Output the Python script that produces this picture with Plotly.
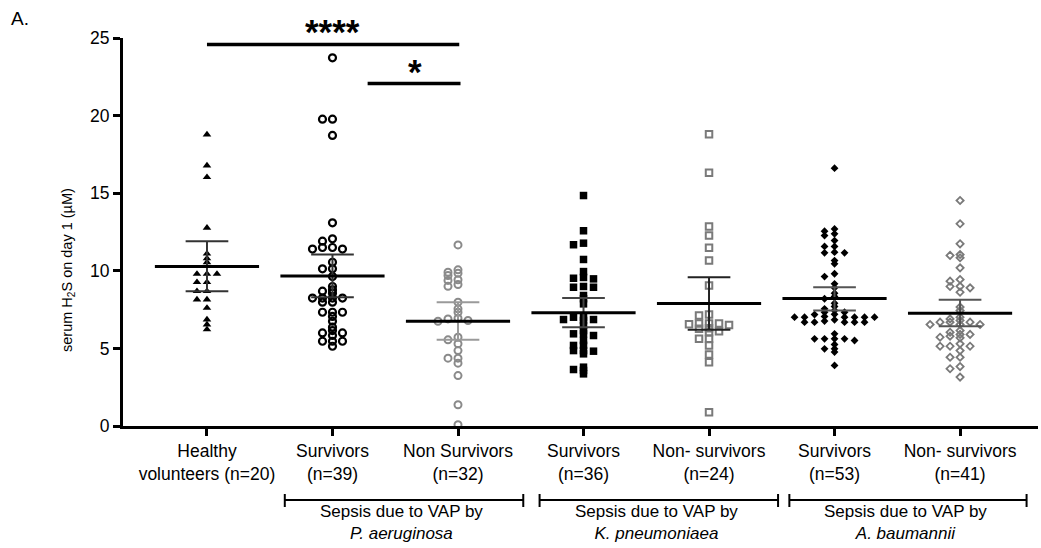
import numpy as np
import plotly.graph_objects as go

# ---------------- data ----------------
categories = [
    "Healthy<br>volunteers (n=20)",
    "Survivors<br>(n=39)",
    "Non Survivors<br>(n=32)",
    "Survivors<br>(n=36)",
    "Non- survivors<br>(n=24)",
    "Survivors<br>(n=53)",
    "Non- survivors<br>(n=41)",
]

healthy = [18.78, 16.78, 16.03, 12.77, 11.1, 10.8, 10.55, 9.8, 9.8, 9.8, 9.27, 9.27,
           8.69, 8.69, 8.15, 8.15, 7.61, 6.86, 6.54, 6.22]

pa_surv = [23.72, 19.77, 19.77, 18.72, 13.09, 12.06, 11.91, 11.5, 11.4, 11.5, 11.4,
           10.55, 10.13, 10.13, 9.63, 8.99, 8.77, 8.69, 8.56, 8.24, 8.24, 8.24, 8.24,
           7.98, 7.98, 7.33, 7.33, 7.33, 7.06, 6.75, 6.37, 6.15, 6.0, 6.0, 5.83,
           5.46, 5.46, 5.46, 5.14]

pa_nonsurv = [11.67, 10.06, 9.91, 9.85, 9.7, 9.42, 9.38, 9.12, 9.0, 7.98, 7.55, 7.33,
              6.95, 6.9, 6.8, 6.75, 5.72, 5.55, 5.3, 4.86, 4.37, 4.37, 4.05, 3.25,
              1.37, 0.08]

kp_surv = [14.85, 12.58, 11.78, 11.68, 10.73, 9.95, 9.57, 9.52, 9.48, 8.99, 8.94,
           8.94, 8.41, 8.2, 7.87, 7.01, 7.01, 6.86, 6.86, 6.8, 6.48, 6.15, 5.94,
           5.94, 5.83, 5.51, 5.2, 5.19, 4.86, 4.86, 4.82, 4.65, 3.79, 3.64, 3.58,
           3.36]

kp_nonsurv = [18.8, 16.31, 12.85, 12.27, 11.48, 10.66, 9.05, 7.18, 7.12, 6.6, 6.6,
              6.6, 6.56, 6.5, 6.3, 6.26, 6.11, 6.04, 5.62, 5.62, 5.19, 4.61, 4.11,
              0.89]

ab_surv = [16.61, 12.7, 12.55, 12.38, 12.27, 11.95, 11.57, 11.57, 11.2, 11.16, 11.16,
           10.66, 10.45, 9.81, 9.63, 9.16, 8.9, 8.56, 8.34, 8.2, 7.91, 7.7, 7.55,
           7.45, 7.33, 7.33, 7.2, 7.18, 7.06, 7.01, 7.01, 7.01, 7.01, 7.01, 7.01,
           6.84, 6.76, 6.69, 6.69, 6.69, 6.69, 6.69, 5.94, 5.62, 5.62, 5.62, 5.62,
           5.51, 5.25, 4.97, 4.97, 4.76, 3.9]

ab_nonsurv = [14.53, 13.03, 11.74, 11.05, 10.99, 10.84, 10.19, 9.44, 9.33, 9.0, 8.99,
              8.9, 8.62, 7.66, 7.44, 7.01, 6.9, 6.8, 6.69, 6.69, 6.69, 6.54, 6.54,
              6.54, 6.15, 6.04, 5.9, 5.9, 5.79, 5.72, 5.68, 5.3, 5.14, 5.14, 5.14,
              4.86, 4.43, 4.43, 3.83, 3.69, 3.15]

groups = [healthy, pa_surv, pa_nonsurv, kp_surv, kp_nonsurv, ab_surv, ab_nonsurv]

means = [10.28, 9.67, 6.75, 7.29, 7.89, 8.21, 7.27]
ci_low = [8.69, 8.30, 5.55, 6.37, 6.20, 7.44, 6.43]
ci_high = [11.90, 11.05, 7.98, 8.24, 9.59, 8.94, 8.13]

y_ticks = [0, 5, 10, 15, 20, 25]

# ---------------- styling ----------------
FONT = "Liberation Sans, Arial, sans-serif"
W, H = 1041, 548
M_L, M_R, M_T, M_B = 123, 3, 38, 122
X_RANGE = [-0.669, 6.621]
Y_RANGE = [0, 25]
PX_X = (W - M_L - M_R) / (X_RANGE[1] - X_RANGE[0])
PX_Y = (H - M_T - M_B) / (Y_RANGE[1] - Y_RANGE[0])

BLACK = "#000000"
GRAY = "#8a8a8a"
GRAY2 = "#7a7a7a"

styles = [
    dict(symbol="triangle-up", size=7.5, color=BLACK, line=dict(width=0)),
    dict(symbol="circle-open", size=7, color=BLACK, line=dict(width=2.2, color=BLACK)),
    dict(symbol="circle-open", size=7, color=GRAY, line=dict(width=2.0, color=GRAY)),
    dict(symbol="square", size=7.5, color=BLACK, line=dict(width=0)),
    dict(symbol="square-open", size=6.5, color=GRAY2, line=dict(width=2.0, color=GRAY2)),
    dict(symbol="diamond", size=6, color=BLACK, line=dict(width=0)),
    dict(symbol="diamond-open", size=5.5, color=GRAY2, line=dict(width=1.8, color=GRAY2)),
]
err_colors = ["#333333", "#333333", "#9a9a9a", "#444444", "#222222", "#555555", "#555555"]


def swarm(vals, center, w=10.0, dx_thr=9.0, dy_thr=3.2):
    """Simple column-scatter layout: offsets in pixel units, converted to axis units."""
    v = np.asarray(vals, dtype=float)
    order = np.argsort(-v, kind="stable")
    cands = [0.0]
    for k in range(1, 30):
        cands += [-k * w, k * w]
    placed = []
    xs = np.zeros(len(v))
    for i in order:
        y = v[i] * PX_Y
        for c in cands:
            if all(not (abs(c - px) < dx_thr and abs(y - py) < dy_thr) for px, py in placed):
                break
        placed.append((c, y))
        xs[i] = center + c / PX_X
    return xs


fig = go.Figure()

for gi, vals in enumerate(groups):
    xs = swarm(vals, gi)
    fig.add_trace(go.Scatter(
        x=xs, y=vals, mode="markers", marker=styles[gi],
        cliponaxis=False, showlegend=False, hoverinfo="y"))

# mean lines and 95% CI bars
MEAN_HW = 0.415
WHISK_HW = 0.17
for gi in range(len(groups)):
    m, lo, hi = means[gi], ci_low[gi], ci_high[gi]
    ec = err_colors[gi]
    fig.add_trace(go.Scatter(
        x=[gi, gi, None, gi - WHISK_HW, gi + WHISK_HW, None, gi - WHISK_HW, gi + WHISK_HW],
        y=[lo, hi, None, hi, hi, None, lo, lo],
        mode="lines", line=dict(color=ec, width=2), showlegend=False, hoverinfo="skip"))
    fig.add_trace(go.Scatter(
        x=[gi - MEAN_HW, gi + MEAN_HW], y=[m, m],
        mode="lines", line=dict(color=BLACK, width=3), showlegend=False, hoverinfo="skip"))


def ppy(pix):
    return (H - M_B - pix) / (H - M_T - M_B)


shapes = []
# significance bars
shapes.append(dict(type="line", xref="x", yref="y", x0=0, x1=2.01, y0=24.58, y1=24.58,
                   line=dict(color=BLACK, width=3.5)))
shapes.append(dict(type="line", xref="x", yref="y", x0=1.28, x1=2.02, y0=22.07, y1=22.07,
                   line=dict(color=BLACK, width=3.5)))

# group brackets below the axis
brackets = [(0.62, 2.52), (2.65, 4.55), (4.64, 6.53)]
bracket_labels = [
    "Sepsis due to VAP by<br><i>P. aeruginosa</i>",
    "Sepsis due to VAP by<br><i>K. pneumoniaea</i>",
    "Sepsis due to VAP by<br><i>A. baumannii</i>",
]
yb = ppy(500)
for (a, b) in brackets:
    shapes.append(dict(type="line", xref="x", yref="paper", x0=a, x1=b, y0=yb, y1=yb,
                       line=dict(color=BLACK, width=2)))
    for xx in (a, b):
        shapes.append(dict(type="line", xref="x", yref="paper", x0=xx, x1=xx,
                           y0=ppy(494), y1=ppy(507), line=dict(color=BLACK, width=2)))

annotations = []
for (a, b), txt in zip(brackets, bracket_labels):
    annotations.append(dict(x=(a + b) / 2 - 0.02, y=ppy(522), xref="x", yref="paper", text=txt,
                            showarrow=False, font=dict(family=FONT, size=17, color=BLACK),
                            xanchor="center", yanchor="middle"))

annotations.append(dict(x=1.0, y=ppy(31.5), xref="x", yref="paper", text="<b>****</b>",
                        showarrow=False, font=dict(family=FONT, size=35, color=BLACK),
                        xanchor="center", yanchor="middle"))
annotations.append(dict(x=1.657, y=ppy(71.5), xref="x", yref="paper", text="<b>*</b>",
                        showarrow=False, font=dict(family=FONT, size=35, color=BLACK),
                        xanchor="center", yanchor="middle"))

annotations.append(dict(x=(68 - M_L) / (W - M_L - M_R), y=ppy(270), xref="paper", yref="paper",
                        text="serum H<sub>2</sub>S on day 1 (µM)", textangle=-90, showarrow=False,
                        font=dict(family=FONT, size=14.5, color=BLACK),
                        xanchor="center", yanchor="middle"))
annotations.append(dict(x=(9 - M_L) / (W - M_L - M_R), y=ppy(19), xref="paper", yref="paper",
                        text="A.", showarrow=False, font=dict(family=FONT, size=19, color=BLACK),
                        xanchor="left", yanchor="middle"))

fig.update_layout(
    width=W, height=H,
    margin=dict(l=M_L, r=M_R, t=M_T, b=M_B),
    paper_bgcolor="white", plot_bgcolor="white",
    font=dict(family=FONT, color=BLACK),
    shapes=shapes, annotations=annotations,
    xaxis=dict(range=X_RANGE, tickmode="array", tickvals=list(range(len(categories))),
               ticktext=categories, showline=True, linewidth=3, linecolor=BLACK,
               ticks="outside", ticklen=7, tickwidth=3, tickcolor=BLACK,
               showgrid=False, zeroline=False, tickfont=dict(family=FONT, size=17.5, color=BLACK)),
    yaxis=dict(range=Y_RANGE, tickmode="array", tickvals=y_ticks, showline=True, linewidth=3,
               linecolor=BLACK, ticks="outside", ticklen=7, tickwidth=3, tickcolor=BLACK,
               showgrid=False, zeroline=False, tickfont=dict(family=FONT, size=17.5, color=BLACK)),
)

fig.write_html("out.html")
